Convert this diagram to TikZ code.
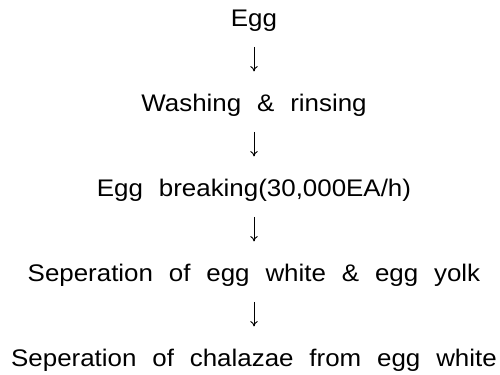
\documentclass[tikz,border=0pt]{standalone}
\usepackage{fontspec}
\setmainfont{Liberation Sans}[FakeStretch=1.08]
\usepackage{tikz}
\usepackage{xcolor}
\usetikzlibrary{arrows.meta}

\newcommand{\stagefont}{\fontsize{18pt}{21pt}\selectfont}
\newcommand{\widesp}[1]{{\spaceskip=11.9pt plus 0pt minus 0pt\relax #1}}

\tikzset{
  stage/.style={anchor=base,inner sep=0pt,text height=12.75pt,text depth=3.75pt,font=\stagefont},
  flow/.style={line width=0.7pt,-{To[length=4pt,width=5.5pt]},shorten <=11.25pt,shorten >=17.25pt}
}

\begin{document}
\begin{tikzpicture}[x=0.75pt,y=0.75pt,yscale=-1,xscale=1]
%set diagram area 500 x 375
\useasboundingbox (0,0) rectangle (500,375);

% Text Node
\node[stage] (egg) at (254,26.7) {Egg};
% Text Node
\node[stage] (wash) at (254,111.7) {\widesp{Washing \& rinsing}};
% Text Node
\node[stage] (break) at (254,196.7) {\widesp{Egg breaking(30,000EA/h)}};
% Text Node
\node[stage] (yolk) at (254,281.7) {\widesp{Seperation of egg white \& egg yolk}};
% Text Node
\node[stage] (chalaza) at (254,366.7) {\widesp{Seperation of chalazae from egg white}};

%Straight Lines
\draw[flow] (egg) -- (wash);
\draw[flow] (wash) -- (break);
\draw[flow] (break) -- (yolk);
\draw[flow] (yolk) -- (chalaza);

\end{tikzpicture}
\end{document}
